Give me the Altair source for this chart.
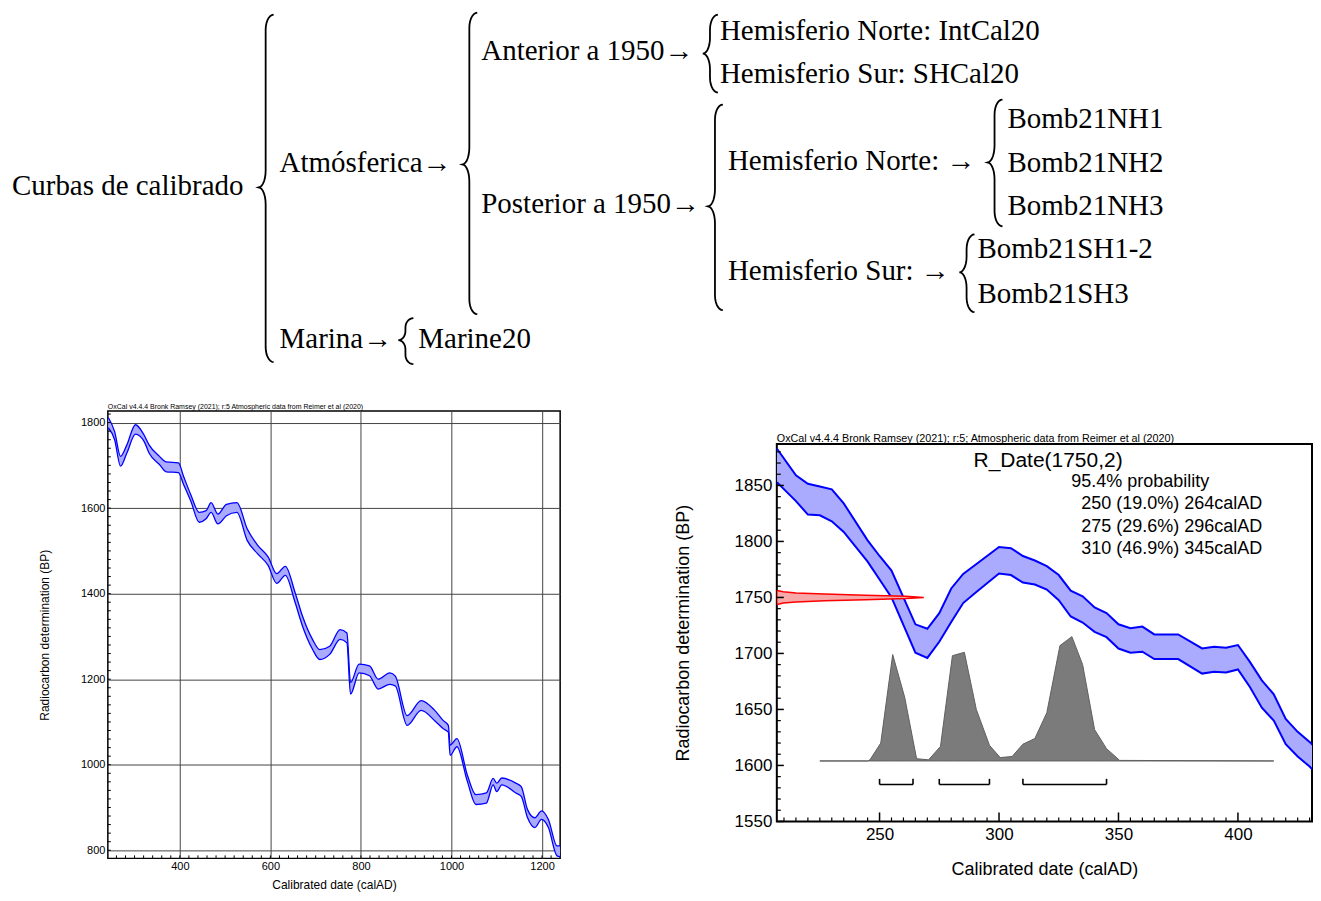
import altair as alt
import numpy as np
import pandas as pd

# ---------------- tree diagram (top) ----------------
tree_labels = ["Curbas de calibrado", "Atmósferica→", "Marina→", "Marine20",
               "Anterior a 1950→", "Posterior a 1950→",
               "Hemisferio Norte: IntCal20", "Hemisferio Sur: SHCal20",
               "Hemisferio Norte: →", "Hemisferio Sur: →",
               "Bomb21NH1", "Bomb21NH2", "Bomb21NH3", "Bomb21SH1-2", "Bomb21SH3"]
label_x = [12, 280, 280, 419, 482, 482, 721, 721, 729, 729, 1009, 1009, 1009, 979, 979]
label_y = [183.5, 160.5, 336.5, 336.5, 48.5, 201.5, 28.5, 71.5, 158.5, 268.5, 116.5, 160.5,
           203.5, 246.5, 291.5]

brace_x = [259, 399, 463, 704, 709, 989, 961]
brace_top = [12, 316, 10, 12, 102, 97, 232]
brace_bottom = [360, 362, 312, 90, 308, 224, 310]
brace_mid = [185, 338, 162, 51, 204, 160, 270]

# ---------------- left chart: IntCal20 240-1240 calAD ----------------
left_header = "OxCal v4.4.4 Bronk Ramsey (2021); r:5 Atmospheric data from Reimer et al (2020)"
left_years = [242, 256, 269, 283, 302, 321, 332, 355, 370, 397, 408, 424, 443, 458, 469, 484,
              503, 526, 549, 572, 595, 614, 633, 655, 671, 693, 709, 731, 754, 769, 777, 796,
              819, 838, 864, 876, 902, 933, 963, 982, 993, 997, 1012, 1035, 1054, 1077, 1092,
              1100, 1111, 1142, 1154, 1168, 1184, 1199, 1214, 1233, 1240]
left_upper = [1812, 1779, 1721, 1748, 1795, 1771, 1748, 1721, 1708, 1706, 1675, 1632, 1590, 1594,
              1613, 1586, 1609, 1613, 1551, 1513, 1486, 1447, 1464, 1401, 1347, 1293, 1269, 1277,
              1316, 1308, 1192, 1235, 1231, 1200, 1215, 1207, 1115, 1150, 1127, 1103, 1092, 1046,
              1061, 976, 930, 934, 968, 957, 969, 957, 949, 895, 876, 892, 872, 810, 810]
left_lower = [1788, 1760, 1698, 1729, 1773, 1756, 1729, 1702, 1685, 1683, 1656, 1617, 1567, 1575,
              1590, 1563, 1582, 1590, 1524, 1493, 1466, 1424, 1443, 1378, 1324, 1270, 1246, 1258,
              1293, 1285, 1165, 1215, 1208, 1177, 1188, 1184, 1092, 1127, 1103, 1084, 1076, 1022,
              1042, 961, 907, 910, 953, 937, 953, 934, 926, 876, 853, 872, 853, 787, 785]

# ---------------- right chart: R_Date(1750,2) ----------------
right_header = "OxCal v4.4.4 Bronk Ramsey (2021); r:5; Atmospheric data from Reimer et al (2020)"
right_years = [207, 215, 220, 225, 230, 235, 245, 250, 255, 265, 270, 275, 280, 285, 290, 300,
               305, 310, 315, 320, 325, 330, 335, 340, 345, 350, 355, 360, 365, 375, 385, 390,
               395, 400, 405, 410, 415, 420, 425, 430, 435]
right_upper = [1883, 1859, 1851.5, 1849, 1846.5, 1834, 1801, 1787, 1774, 1726, 1722, 1736, 1758,
               1771, 1779, 1795, 1794, 1787, 1783, 1778, 1770, 1756, 1751, 1741, 1736, 1726,
               1722.5, 1724, 1717, 1717, 1704.5, 1706, 1705, 1707.5, 1692.5, 1676, 1663.5,
               1641.5, 1630, 1621, 1610]
right_lower = [1853, 1836, 1824, 1823.3, 1818, 1808.5, 1782, 1766, 1750, 1700.6, 1696, 1710.4,
               1728, 1745, 1754, 1771.3, 1770, 1763.3, 1761.5, 1757, 1747.5, 1733, 1727.6,
               1719.3, 1714.5, 1704.4, 1700.6, 1701.5, 1695, 1695, 1682, 1683.6, 1683, 1685.7,
               1670, 1651.5, 1640, 1619, 1608, 1599, 1588]

prob_years = [225, 245, 246, 250.5, 255.5, 260.5, 265.5, 270.5, 275.5, 280.5, 285.5, 290.5, 296,
              300.5, 305.5, 310, 315, 320, 325.5, 330.5, 335, 340, 345, 350.5, 415]
prob_top = [1604, 1604, 1605, 1620, 1699, 1661, 1606, 1605, 1617, 1698, 1701, 1650, 1618, 1607,
            1608, 1619, 1624, 1647, 1707, 1715, 1690, 1632, 1615, 1604.5, 1604]
prob_base = 1604

meas_bp = [1744, 1745, 1746, 1747, 1748, 1749, 1750, 1751, 1752, 1753, 1754, 1755, 1756]
meas_extent = [0.6, 2.7, 8, 20, 37, 54, 61.5, 54, 37, 20, 8, 2.7, 0.6]

range_from = [250, 275, 310]
range_to = [264, 296, 345]
range_pct = [19.0, 29.6, 46.9]
date_title = "R_Date(1750,2)"
prob_title = "95.4% probability"

SANS = "Liberation Sans"
SERIF = "Liberation Serif"

# =============== top diagram ===============
X0, Y0 = 8, 8
W_TOP, H_TOP = 1300, 392
xs_top = alt.Scale(domain=[X0, X0 + W_TOP], nice=False, zero=False)
ys_top = alt.Scale(domain=[Y0, Y0 + H_TOP], reverse=True, nice=False, zero=False)


def brace_points(xc, top, bot, mid, width=15):
    xe = xc + width
    xs = xc + width * 0.47
    h = bot - top
    r1 = min(15, h * 0.2)
    r2 = min(17, h * 0.2)
    a, b = xe - xs, xs - xc
    pts = []
    for t in np.linspace(np.pi / 2, np.pi, 8):
        pts.append((xe + a * np.cos(t), top + r1 - r1 * np.sin(t)))
    for t in np.linspace(0, -np.pi / 2, 8):
        pts.append((xc + b * np.cos(t), mid - r2 - r2 * np.sin(t)))
    for t in np.linspace(np.pi / 2, 0, 8):
        pts.append((xc + b * np.cos(t), mid + r2 - r2 * np.sin(t)))
    for t in np.linspace(np.pi, 1.5 * np.pi, 8):
        pts.append((xe + a * np.cos(t), bot - r1 - r1 * np.sin(t)))
    return pts


rows = []
for i, (bx, bt, bb, bm) in enumerate(zip(brace_x, brace_top, brace_bottom, brace_mid)):
    for k, (px, py) in enumerate(brace_points(bx, bt, bb, bm)):
        rows.append({"bx": px, "by": py, "bid": i, "ord": k})
brace_df = pd.DataFrame(rows)
labels_df = pd.DataFrame({"label": tree_labels, "lx": label_x, "ly": label_y})

braces = alt.Chart(brace_df).mark_line(color="black", strokeWidth=1.8).encode(
    x=alt.X("bx:Q", scale=xs_top, axis=None),
    y=alt.Y("by:Q", scale=ys_top, axis=None),
    detail="bid:N",
    order="ord:Q",
)
texts = alt.Chart(labels_df).mark_text(
    align="left", baseline="middle", font=SERIF, fontSize=29, color="black"
).encode(
    x=alt.X("lx:Q", scale=xs_top, axis=None),
    y=alt.Y("ly:Q", scale=ys_top, axis=None),
    text="label:N",
)
top_chart = alt.layer(braces, texts).properties(width=W_TOP, height=H_TOP)

# =============== left chart ===============
L_W, L_H = 453, 448
lx = alt.Scale(domain=[241, 1240], nice=False, zero=False)
ly = alt.Scale(domain=[781, 1827], nice=False, zero=False)
band_l = pd.DataFrame({"year": left_years, "upper": left_upper, "lower": left_lower})
lines_l = band_l.melt("year", var_name="edge", value_name="bp")

l_xaxis = alt.Axis(
    values=[400, 600, 800, 1000, 1200], format="d", grid=True, gridColor="#444", gridWidth=1,
    ticks=False, domain=False, labelPadding=2, labelFontSize=11, labelFont=SANS,
    title="Calibrated date (calAD)", titleFontSize=12, titleFont=SANS,
    titleFontWeight="normal", titlePadding=8, labelColor="black", titleColor="black")
l_yaxis = alt.Axis(
    values=[800, 1000, 1200, 1400, 1600, 1800], format="d", grid=True, gridColor="#444",
    gridWidth=1, ticks=False, domain=False, labelPadding=3, labelFontSize=11, labelFont=SANS,
    title="Radiocarbon determination (BP)", titleFontSize=12, titleFont=SANS,
    titleFontWeight="normal", titlePadding=29, labelColor="black", titleColor="black")

l_area = alt.Chart(band_l).mark_area(fill="#aaaaff", interpolate="monotone", clip=True).encode(
    x=alt.X("year:Q", scale=lx, axis=l_xaxis),
    y=alt.Y("upper:Q", scale=ly, axis=l_yaxis),
    y2="lower:Q",
)
l_lines = alt.Chart(lines_l).mark_line(color="#0000ff", strokeWidth=1.3, interpolate="monotone",
                                       clip=True).encode(
    x=alt.X("year:Q", scale=lx, axis=l_xaxis),
    y=alt.Y("bp:Q", scale=ly, axis=l_yaxis),
    detail="edge:N",
)
l_yticks = alt.Chart(pd.DataFrame({"v": list(range(800, 1821, 20))})).mark_rule(
    color="black", strokeWidth=1).encode(
    y=alt.Y("v:Q", scale=ly, axis=l_yaxis), x=alt.value(0), x2=alt.value(3))
l_xticks = alt.Chart(pd.DataFrame({"v": list(range(260, 1240, 20))})).mark_rule(
    color="black", strokeWidth=1).encode(
    x=alt.X("v:Q", scale=lx, axis=l_xaxis), y=alt.value(L_H), y2=alt.value(L_H - 3))
l_head = alt.Chart(pd.DataFrame({"t": [left_header]})).mark_text(
    align="left", baseline="alphabetic", fontSize=7, font=SANS, color="black").encode(
    text="t:N", x=alt.value(0), y=alt.value(-2))

left_chart = alt.layer(l_area, l_lines, l_yticks, l_xticks, l_head).properties(
    width=L_W, height=L_H, view=alt.ViewBackground(stroke="black", strokeWidth=1.5))

# =============== right chart ===============
R_W, R_H = 536, 378
rx = alt.Scale(domain=[207, 431], nice=False, zero=False)
ry = alt.Scale(domain=[1550, 1887], nice=False, zero=False)
band_r = pd.DataFrame({"year": right_years, "upper": right_upper, "lower": right_lower})
lines_r = band_r.melt("year", var_name="edge", value_name="bp")

r_xaxis = alt.Axis(
    values=[250, 300, 350, 400], format="d", grid=False, ticks=False, domain=False,
    labelPadding=5, labelFontSize=17, labelFont=SANS, title="Calibrated date (calAD)",
    titleFontSize=18, titleFont=SANS, titleFontWeight="normal", titlePadding=18,
    labelColor="black", titleColor="black")
r_yaxis = alt.Axis(
    values=[1550, 1600, 1650, 1700, 1750, 1800, 1850], format="d", grid=False, ticks=False,
    domain=False, labelPadding=5, labelFontSize=17, labelFont=SANS,
    title="Radiocarbon determination (BP)", titleFontSize=18, titleFont=SANS,
    titleFontWeight="normal", titlePadding=42, labelColor="black", titleColor="black")


def RX(f):
    return alt.X(f, scale=rx, axis=r_xaxis)


def RY(f):
    return alt.Y(f, scale=ry, axis=r_yaxis)


r_area = alt.Chart(band_r).mark_area(fill="#aaaaff", clip=True).encode(
    x=RX("year:Q"), y=RY("upper:Q"), y2="lower:Q")
r_lines = alt.Chart(lines_r).mark_line(color="#0000ff", strokeWidth=2, clip=True).encode(
    x=RX("year:Q"), y=RY("bp:Q"), detail="edge:N")
prob_df = pd.DataFrame({"year": prob_years, "p": prob_top, "base": [prob_base] * len(prob_years)})
r_prob = alt.Chart(prob_df).mark_area(fill="#7b7b7b", stroke="#5f5f5f", strokeWidth=1,
                                      clip=True).encode(
    x=RX("year:Q"), y=RY("p:Q"), y2="base:Q")
meas_df = pd.DataFrame({"bp": meas_bp, "x0": [rx.domain[0]] * len(meas_bp),
                        "xe": [rx.domain[0] + e for e in meas_extent]})
r_meas = alt.Chart(meas_df).mark_area(orient="horizontal", fill="#f7a8a8", stroke="#ff0000",
                                      strokeWidth=1.5, clip=True).encode(
    y=RY("bp:Q"), x=RX("xe:Q"), x2="x0:Q")
br_df = pd.DataFrame({"a": range_from, "b": range_to, "yb": [1583] * 3})
r_br_h = alt.Chart(br_df).mark_rule(color="black", strokeWidth=1.6).encode(
    x=RX("a:Q"), x2="b:Q", y=RY("yb:Q"))
br_ends = pd.DataFrame({"x": range_from + range_to, "yb": [1583] * 6, "yt": [1588] * 6})
r_br_v = alt.Chart(br_ends).mark_rule(color="black", strokeWidth=1.6).encode(
    x=RX("x:Q"), y=RY("yb:Q"), y2="yt:Q")

yv = list(range(1550, 1881, 10))
xv = list(range(210, 431, 5))
r_ymaj = alt.Chart(pd.DataFrame({"v": [v for v in yv if v % 50 == 0]})).mark_rule(
    color="black", strokeWidth=1.5).encode(y=RY("v:Q"), x=alt.value(0), x2=alt.value(7))
r_ymin = alt.Chart(pd.DataFrame({"v": [v for v in yv if v % 50 != 0]})).mark_rule(
    color="black", strokeWidth=1.2).encode(y=RY("v:Q"), x=alt.value(0), x2=alt.value(4))
r_xmaj = alt.Chart(pd.DataFrame({"v": [v for v in xv if v % 50 == 0]})).mark_rule(
    color="black", strokeWidth=1.5).encode(x=RX("v:Q"), y=alt.value(R_H), y2=alt.value(R_H - 9))
r_xmin = alt.Chart(pd.DataFrame({"v": [v for v in xv if v % 50 != 0]})).mark_rule(
    color="black", strokeWidth=1.2).encode(x=RX("v:Q"), y=alt.value(R_H), y2=alt.value(R_H - 4))

ann_text = [date_title, prob_title] + [
    f"{a} ({p:.1f}%) {b}calAD" for a, b, p in zip(range_from, range_to, range_pct)]
ann_px = [197, 295, 305, 305, 305]
ann_py = [17, 38, 60, 83, 105.5]
ann_fs = [21, 18, 18, 18, 18]
r_ann_layers = []
for t, px, py, fs in zip(ann_text, ann_px, ann_py, ann_fs):
    r_ann_layers.append(
        alt.Chart(pd.DataFrame({"t": [t]})).mark_text(
            align="left", baseline="middle", font=SANS, color="black", fontSize=fs
        ).encode(text="t:N", x=alt.value(px), y=alt.value(py))
    )
r_head = alt.Chart(pd.DataFrame({"t": [right_header]})).mark_text(
    align="left", baseline="alphabetic", fontSize=10.8, font=SANS, color="black").encode(
    text="t:N", x=alt.value(0), y=alt.value(-2.5))

right_chart = alt.layer(r_area, r_lines, r_prob, r_meas, r_br_h, r_br_v,
                        r_ymaj, r_ymin, r_xmaj, r_xmin, *r_ann_layers, r_head).properties(
    width=R_W, height=R_H, view=alt.ViewBackground(stroke="black", strokeWidth=2))


def spacer(w, h):
    return alt.Chart(pd.DataFrame({"a": [0]})).mark_point(opacity=0).properties(width=w, height=h)


right_col = alt.vconcat(spacer(1, 20), right_chart, spacing=0)
bottom = alt.hconcat(spacer(29, 10), left_chart, spacer(112, 10), right_col, spacing=0)

chart = alt.vconcat(top_chart, bottom, spacing=0).properties(padding=0).configure(
    font=SANS).configure_view(stroke=None)

chart.save("out.html", embed_options={"renderer": "svg", "actions": False})
